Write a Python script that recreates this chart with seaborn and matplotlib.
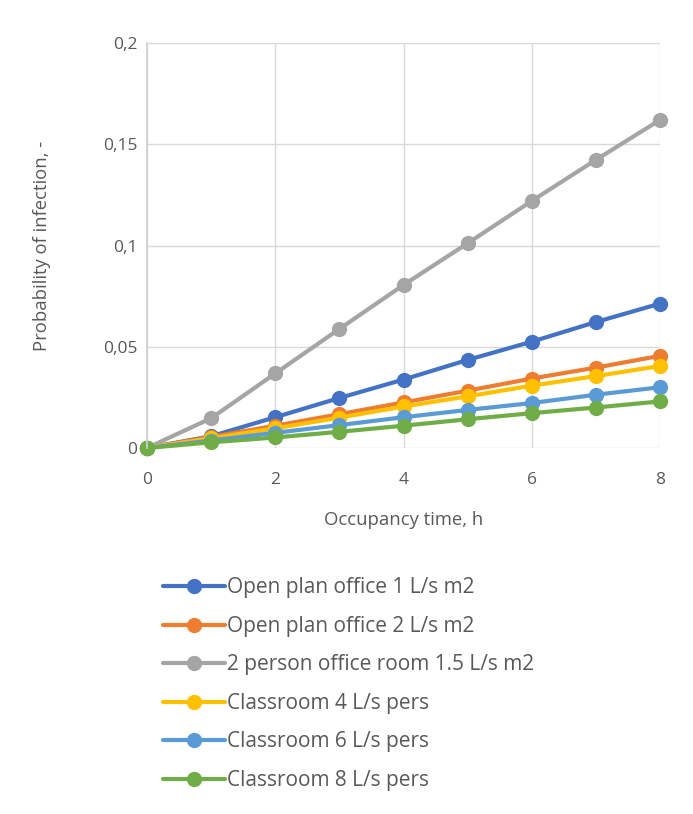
import matplotlib
matplotlib.use("Agg")
import matplotlib.pyplot as plt
import seaborn as sns
import pandas as pd

hours = [0, 1, 2, 3, 4, 5, 6, 7, 8]
open_office_1 = [0, 0.0058, 0.0152, 0.0247, 0.0338, 0.0435, 0.0525, 0.0622, 0.0713]
open_office_2 = [0, 0.0055, 0.0110, 0.0167, 0.0225, 0.0283, 0.0343, 0.0397, 0.0455]
person2_office = [0, 0.0147, 0.0368, 0.0588, 0.0805, 0.1011, 0.1220, 0.1423, 0.1620]
classroom_4 = [0, 0.0048, 0.0097, 0.0150, 0.0205, 0.0255, 0.0308, 0.0355, 0.0405]
classroom_6 = [0, 0.0037, 0.0075, 0.0113, 0.0152, 0.0188, 0.0222, 0.0263, 0.0300]
classroom_8 = [0, 0.0028, 0.0052, 0.0080, 0.0110, 0.0142, 0.0172, 0.0200, 0.0230]

series_names = [
    "Open plan office 1 L/s m2",
    "Open plan office 2 L/s m2",
    "2 person office room 1.5 L/s m2",
    "Classroom 4 L/s pers",
    "Classroom 6 L/s pers",
    "Classroom 8 L/s pers",
]
series_values = [open_office_1, open_office_2, person2_office, classroom_4, classroom_6, classroom_8]
colors = ["#4472C4", "#ED7D31", "#A5A5A5", "#FFC000", "#5B9BD5", "#70AD47"]

y_ticks = [0, 0.05, 0.1, 0.15, 0.2]
y_tick_labels = ["0", "0,05", "0,1", "0,15", "0,2"]
x_ticks = [0, 2, 4, 6, 8]

sns.set_theme(style="white")
plt.rcParams["font.family"] = ["Open Sans", "DejaVu Sans"]
text_color = "#595959"

fig = plt.figure(figsize=(6.93, 8.14), dpi=100)
ax = fig.add_axes([147 / 693, 1 - 448 / 814, (660 - 147) / 693, (448 - 43) / 814])

for name, vals, c in zip(series_names, series_values, colors):
    df = pd.DataFrame({"h": hours, "p": vals})
    sns.lineplot(data=df, x="h", y="p", ax=ax, color=c, linewidth=3, marker="o",
                 markersize=11, markeredgewidth=0, label=name, clip_on=False)

ax.set_xlim(0, 8)
ax.set_ylim(0, 0.2)
ax.set_xticks(x_ticks)
ax.set_xticklabels([str(x) for x in x_ticks])
ax.set_yticks(y_ticks)
ax.set_yticklabels(y_tick_labels)
ax.grid(True, color="#d9d9d9", linewidth=1)
ax.set_axisbelow(True)
for s in ["top", "right", "bottom"]:
    ax.spines[s].set_visible(False)
ax.spines["left"].set_color("#d0d0d0")
ax.tick_params(axis="both", length=0, labelsize=12.5, colors=text_color)
ax.tick_params(axis="x", pad=17)
ax.tick_params(axis="y", pad=7)
ax.set_xlabel("Occupancy time, h", fontsize=13.3, color=text_color, labelpad=17)
ax.set_ylabel("Probability of infection, -", fontsize=13.3, color=text_color, labelpad=37)

handles, labels = ax.get_legend_handles_labels()
ax.get_legend().remove()
fig.legend(handles, labels, loc="upper left", bbox_to_anchor=(155 / 693, 1 - 569 / 814),
           frameon=False, fontsize=15, labelcolor=text_color, handlelength=2.95,
           handletextpad=0.1, labelspacing=0.84, borderaxespad=0)

fig.savefig("out.png", dpi=100)
